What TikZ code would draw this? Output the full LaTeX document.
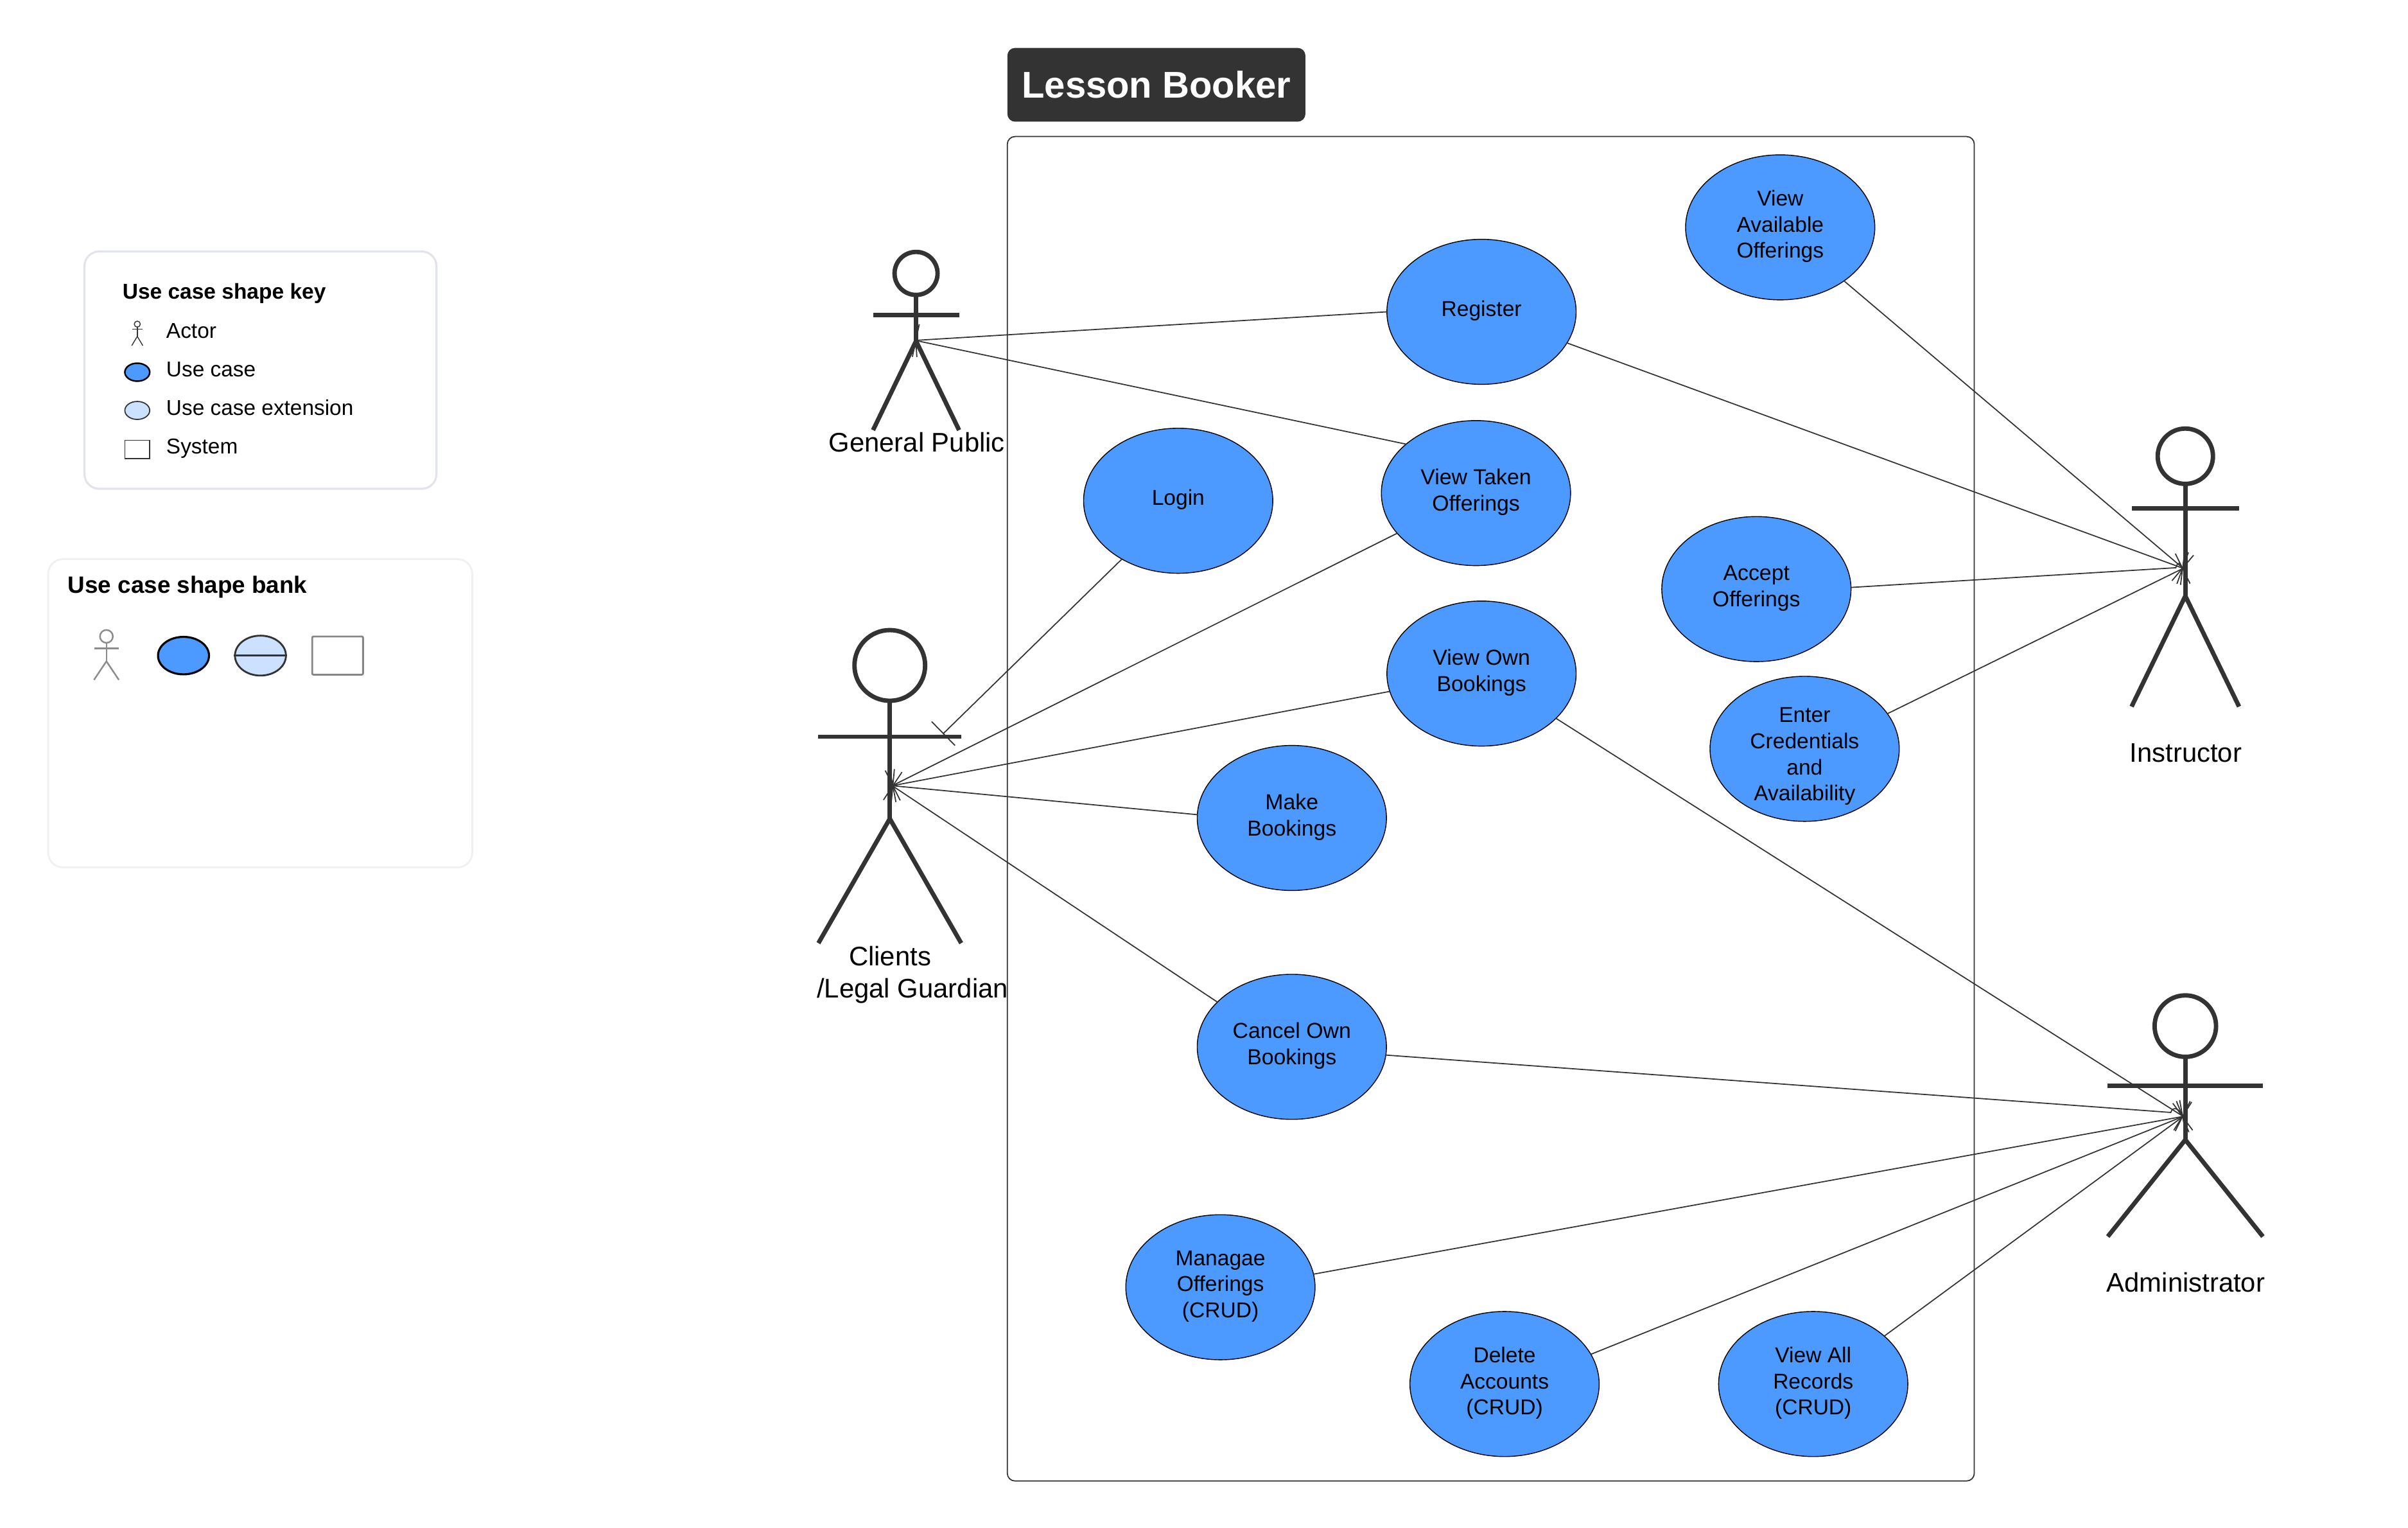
\documentclass[tikz,border=0pt]{standalone}
\usepackage{fontspec}
\setmainfont{Liberation Sans}
\usetikzlibrary{shapes.geometric,arrows.meta}
\definecolor{ink}{HTML}{333333}
\definecolor{ucblue}{HTML}{4C9AFF}
\definecolor{ucpale}{HTML}{CCE0FF}
\definecolor{keyedge}{HTML}{E1E4EA}
\definecolor{bankedge}{HTML}{F0F0F0}
\def\U{0.23916mm}
\tikzset{
  x=0.023916cm, y=-0.023916cm,
  usecase/.style={ellipse,draw=black,line width=0.4pt,fill=ucblue,inner sep=0pt,outer sep=0pt,
    minimum width=123.2*\U,minimum height=94.4*\U,align=center,text depth=2.84pt,
    font=\fontsize{9.55}{11.57}\selectfont},
  twoline/.style={font=\fontsize{9.62}{11.57}\selectfont},
  link/.style={draw=ink,line width=0.5pt},
  barlink/.style={link,-{Bar[width=14.8pt,line width=0.5pt]}},
  actorline/.style={draw=ink,line width=1.95pt,line join=round},
  actorhead/.style={circle,draw=ink,line width=1.95pt,fill=white,inner sep=0pt,outer sep=0pt},
  actorlabel/.style={inner sep=0pt,align=center,font=\fontsize{11.9}{14.3}\selectfont},
  keytext/.style={anchor=west,inner sep=0pt,font=\fontsize{9.5}{11.57}\selectfont},
  panelhead/.style={anchor=west,inner sep=0pt,font=\fontsize{9.53}{11.57}\selectfont\bfseries},
}
% name, x, head y, head radius, arm y, arm half width, hip y, foot y
\newcommand{\stickman}[8]{%
  \node[actorhead,minimum size=2*#4*\U] (#1head) at (#2,#3) {};
  \draw[actorline] (#1head.south) -- (#2,#7);
  \draw[actorline] (#2-#6,#5) -- (#2+#6,#5);
  \draw[actorline] (#2-#6,#8) -- (#2,#7) -- (#2+#6,#8);
}
\begin{document}
\begin{tikzpicture}
\useasboundingbox (0,0) rectangle (1568,994.73);
% key panel
\draw[keyedge,line width=0.9pt,rounded corners=6.5pt,fill=white] (55,163.7) rectangle (284.2,318.2);
\node[panelhead] (keytitle) at (79.5,191) {Use case shape key};
\node[keytext] (tactor) at (108,215.5) {Actor};
\node[keytext] (tuse) at (108,240.5) {Use case};
\node[keytext] (text) at (108,265.5) {Use case extension};
\node[keytext] (tsys) at (108,291.8) {System};
\node[draw=ink,line width=0.4pt,circle,inner sep=0pt,minimum size=3.9*\U] (minihead) at (89.4,211) {};
\draw[ink,line width=0.4pt] (minihead.south) -- (89.4,219);
\draw[ink,line width=0.4pt] (86,214.3) -- (92.8,214.3);
\draw[ink,line width=0.4pt] (85.8,225) -- (89.4,219) -- (93,225);
\node[ellipse,draw=black,line width=0.7pt,fill=ucblue,inner sep=0pt,minimum width=16.2*\U,minimum height=11.7*\U] (keyuc) at (89.4,242.3) {};
\node[ellipse,draw=ink,line width=0.5pt,fill=ucpale,inner sep=0pt,minimum width=16.2*\U,minimum height=11.7*\U] (keyext) at (89.4,267.2) {};
\node[draw=ink,line width=0.4pt,inner sep=0pt,minimum width=16.2*\U,minimum height=12*\U] (keysys) at (89.4,292.6) {};
% bank panel
\draw[bankedge,line width=0.8pt,rounded corners=6.5pt,fill=white] (31.4,364) rectangle (307.5,564.7);
\node[panelhead,font=\fontsize{10.47}{12}\selectfont\bfseries] (banktitle) at (44,382) {Use case shape bank};
\node[draw=gray!90,line width=0.7pt,circle,inner sep=0pt,minimum size=8.4*\U] (bankhead) at (69.3,414.3) {};
\draw[gray!90,line width=0.7pt] (bankhead.south) -- (69.3,430.5);
\draw[gray!90,line width=0.7pt] (61.4,422.1) -- (77.2,422.1);
\draw[gray!90,line width=0.7pt] (61.2,442.6) -- (69.3,430.5) -- (77.4,442.6);
\node[ellipse,draw=black,line width=0.9pt,fill=ucblue,inner sep=0pt,minimum width=33.2*\U,minimum height=24.4*\U] (bankuc) at (119.5,426.8) {};
\node[ellipse,draw=ink,line width=0.8pt,fill=ucpale,inner sep=0pt,minimum width=33.2*\U,minimum height=26*\U] (bankext) at (169.6,426.8) {};
\draw[ink,line width=0.8pt] (bankext.west) -- (bankext.east);
\node[draw=gray!95,line width=0.8pt,rounded corners=0.6pt,inner sep=0pt,minimum width=33.1*\U,minimum height=24.9*\U] (banksys) at (219.85,426.8) {};
% title and system
\node[fill=ink,text=white,rounded corners=3.4pt,inner sep=0pt,minimum width=194*\U,minimum height=48*\U,font=\fontsize{16.5}{18}\selectfont\bfseries] (title) at (753,55.2) {Lesson Booker};
\node[draw=ink,line width=0.5pt,rounded corners=3.4pt,inner sep=0pt,minimum width=629.5*\U,minimum height=875*\U] (system) at (970.75,526.5) {};
% use cases
\node[usecase] (register) at (964.7,203) {Register};
\node[usecase] (avail) at (1159.2,148) {View\\Available\\Offerings};
\node[usecase,twoline] (taken) at (961.1,321) {View Taken\\Offerings};
\node[usecase] (login) at (767.2,326) {Login};
\node[usecase,twoline] (accept) at (1143.7,383.5) {Accept\\Offerings};
\node[usecase,twoline] (own) at (964.7,438.5) {View Own\\Bookings};
\node[usecase] (enter) at (1175.1,487.5) {};
\node[inner sep=0pt,align=center,font=\fontsize{9.55}{11.57}\selectfont] (entertext) at (1175.1,492.5) {Enter\\Credentials\\and\\Availability};
\node[usecase,twoline] (make) at (841.2,532.5) {Make\\Bookings};
\node[usecase,twoline] (cancel) at (841.2,681.5) {Cancel Own\\Bookings};
\node[usecase] (manage) at (794.7,838) {Managae\\Offerings\\(CRUD)};
\node[usecase] (delete) at (979.7,901) {Delete\\Accounts\\(CRUD)};
\node[usecase] (viewall) at (1180.7,901) {View All\\Records\\(CRUD)};
% actors
\stickman{gp}{596.5}{178}{14}{205}{28}{222}{280}
\stickman{cl}{579.4}{433.2}{23}{479.6}{46.5}{533}{614}
\stickman{ins}{1423}{297}{18}{331}{35}{388}{460}
\stickman{adm}{1423}{668}{20}{707}{50.5}{742}{805}
\node[actorlabel] (gplabel) at (597,288) {General Public};
\node[actorlabel,align=left] (cllabel) at (594.2,634.5) {\hspace*{14.2pt}Clients\\/Legal Guardian};
\node[actorlabel] (inslabel) at (1423.3,490) {Instructor};
\node[actorlabel] (admlabel) at (1423.3,835) {Administrator};
\coordinate (gp) at (596,221.6);
\coordinate (cl) at (581,511.5);
\coordinate (loginend) at (614,477.8);
\coordinate (ins) at (1421.6,370);
\coordinate (adm) at (1421.6,726.8);
\coordinate (hopa) at (1416.8,369.6);
\coordinate (hopb) at (1420.8,369.9);
\coordinate (hopc) at (1413.5,724.2);
\coordinate (hopd) at (1420.8,726.4);
% connectors
\draw[barlink] (register.180) -- (gp);
\draw[barlink] (taken.145) -- (gp);
\draw[barlink] (login.226.6) -- (loginend);
\draw[barlink] (taken.207.5) -- (cl);
\draw[barlink] (own.191.9) -- (cl);
\draw[barlink] (make.178) -- (cl);
\draw[barlink] (cancel.149) -- (cl);
\draw[barlink] (register.-20.7) -- (ins);
\draw[barlink] (avail.-40.5) -- (ins);
\draw[barlink] (accept.1) -- (hopa) .. controls +(1.2,-4) and +(-1.2,-4) .. (hopb) -- (ins);
\draw[barlink] (enter.23.9) -- (ins);
\draw[barlink] (own.-31.8) -- (adm);
\draw[barlink] (cancel.-5) -- (hopc) .. controls +(1.5,-4.5) and +(-1.5,-4.5) .. (hopd) -- (adm);
\draw[barlink] (manage.8.3) -- (adm);
\draw[barlink] (delete.19.8) -- (adm);
\draw[barlink] (viewall.34.3) -- (adm);
\end{tikzpicture}
\end{document}
